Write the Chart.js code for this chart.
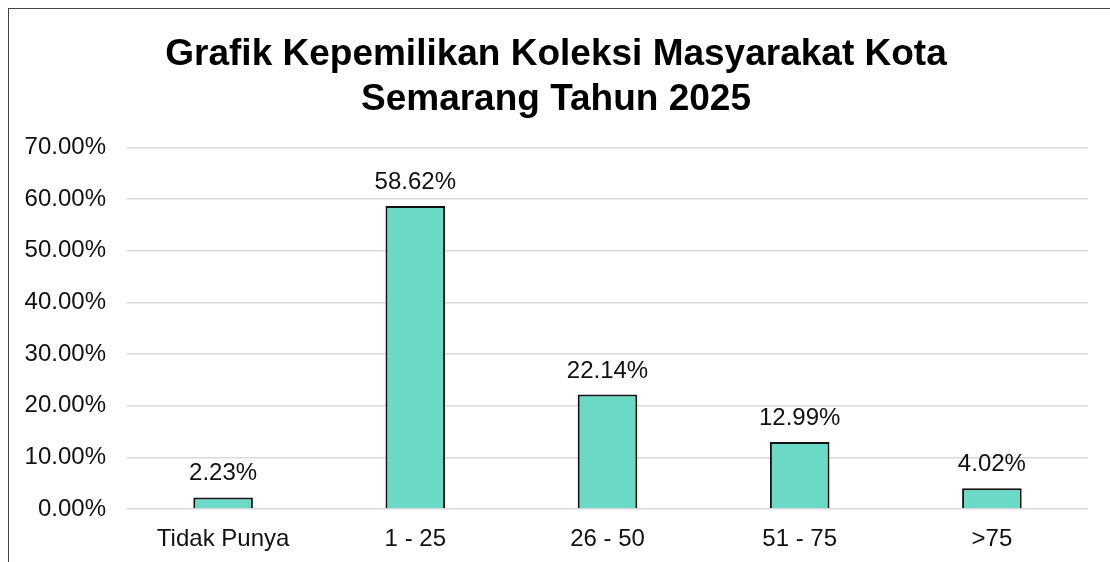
<!DOCTYPE html>
<html>
<head>
<meta charset="utf-8">
<script src="https://cdn.jsdelivr.net/npm/chart.js@4"></script>
<style>
    html, body { margin: 0; padding: 0; background: #fff; overflow: hidden; }
    #frame {
        position: absolute; left: 8px; top: 8px; width: 1200px; height: 700px;
        border-left: 1px solid #444; border-top: 1px solid #444;
    }
    #kepemilikanChart { position: absolute; left: 0; top: 0; }
</style>
</head>
<body>
<div id="frame"></div>
<canvas id="kepemilikanChart" width="1110" height="562"></canvas>
<script>
const categories = ['Tidak Punya', '1 - 25', '26 - 50', '51 - 75', '>75'];
const persentase = [2.23, 58.62, 22.14, 12.99, 4.02];
const titleLines = ['Grafik Kepemilikan Koleksi Masyarakat Kota', 'Semarang Tahun 2025'];

const fontFamily = '"Liberation Sans", Arial, sans-serif';

// labels above each bar, like the Excel data labels
const barLabels = {
    id: 'barLabels',
    afterDatasetsDraw: (chart) => {
        const ctx = chart.ctx;
        const meta = chart.getDatasetMeta(0);
        ctx.save();
        ctx.font = '24px ' + fontFamily;
        ctx.fillStyle = '#111';
        ctx.textAlign = 'center';
        ctx.textBaseline = 'alphabetic';
        meta.data.forEach((bar, i) => {
            ctx.fillText(persentase[i].toFixed(2) + '%', bar.x, bar.y - 17);
        });
        ctx.restore();
    }
};

const kepemilikanChart = document.getElementById('kepemilikanChart');
new Chart(
    kepemilikanChart,
    {
        type: 'bar',
        data: {
            labels: categories,
            datasets: [
                {
                    label: 'Persentase',
                    data: persentase,
                    backgroundColor: '#6ad9c5',
                    borderColor: '#111',
                    borderWidth: 2,
                    barPercentage: 0.31,
                    categoryPercentage: 1,
                },
            ]
        },
        options: {
            responsive: false,
            animation: false,
            layout: {
                padding: { left: 24, right: 22, top: 0, bottom: 10 }
            },
            plugins: {
                legend: { display: false },
                tooltip: { enabled: false },
                title: {
                    display: true,
                    text: titleLines,
                    color: '#000',
                    font: { family: fontFamily, size: 37, weight: 'bold', lineHeight: 1.22 },
                    padding: { top: 32, bottom: 25 }
                }
            },
            scales: {
                x: {
                    afterFit: (scale) => { scale.height = 43; },
                    grid: { display: false },
                    border: { display: false },
                    ticks: {
                        color: '#111',
                        padding: 8,
                        font: { family: fontFamily, size: 24 }
                    }
                },
                y: {
                    min: 0,
                    max: 70,
                    afterFit: (scale) => { scale.width = 103; },
                    grid: { color: '#d9d9d9', lineWidth: 1.5, drawTicks: false },
                    border: { display: false },
                    ticks: {
                        stepSize: 10,
                        color: '#111',
                        padding: 21,
                        font: { family: fontFamily, size: 24 },
                        callback: (value) => value.toFixed(2) + '%'
                    }
                }
            }
        },
        plugins: [barLabels]
    }
);
</script>
</body>
</html>
